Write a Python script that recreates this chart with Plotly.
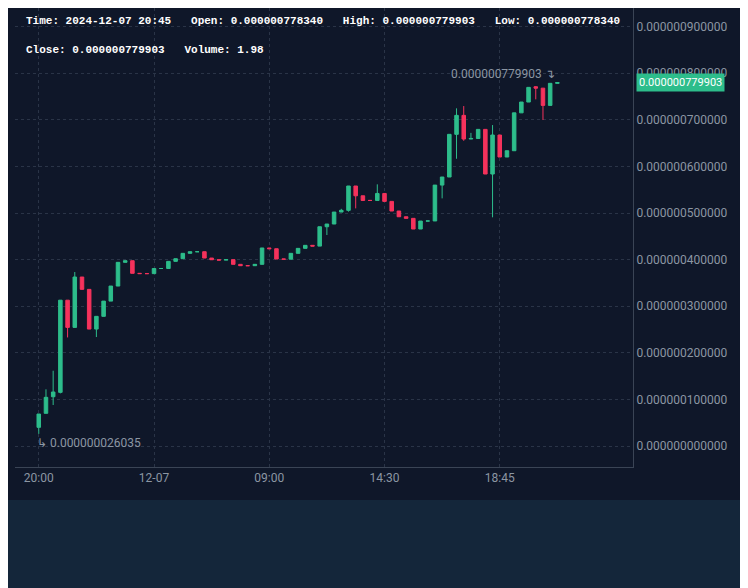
import plotly.graph_objects as go

opens  = [40.1,70.2,105.8,115.2,313,254.6,362.7,336.2,251,278.3,311,343.3,394.2,397.7,370.6,370,370,381,381,396.3,402,413.5,417,417,403.4,399.8,399,400,389.9,387,387,389.9,425,423.4,401.3,401,413.5,424.2,430.7,429,470.6,476.4,502.1,505.8,558,537,527,527,542,525,504.3,492,488.6,465.7,482.8,483,560,577.3,668.9,709.6,658.8,660,679.5,583.7,667.4,620.2,633.7,715,738.2,771,768,731,778.34]
closes = [68.7,104.5,115.9,313,254.6,362.7,336.2,251,278.3,311,343.3,394.2,397.7,370.6,370,370,381,381,396.3,402,413.5,417,417,403.4,399.8,399,400,389.9,387,387,389.9,425,423.4,401.3,401,413.5,424.2,430.7,429,470.6,476.4,502.1,505.8,558,537,527,527,542,525,504.3,492,488.6,465.7,482.8,483,560,577.3,668.9,709.6,658.8,660,679.5,583.7,667.4,620.2,633.7,715,738.2,769.7,768,731,778.34,779.903]
highs  = [68.7,121.7,161.6,313,313,373.4,362.7,336.2,278.3,311,343.3,394.2,397.7,397.7,370.6,370,381,381,396.3,402,413.5,417,417,417,403.4,399.8,400,400,389.9,387,389.9,425,425,423.4,401.3,413.5,424.2,430.7,430.7,470.6,476.4,502.1,509,558,558,537,527,561.6,542,525,504.3,492,488.6,482.8,483,560,577.3,668.9,724.7,729.6,672,679.5,679.5,688.8,667.4,633.7,715,738.2,769.7,772.5,768,778.34,779.903]
lows   = [26.035,70.2,88,113,233,254.6,336.2,251,233.9,278.3,311,343.3,394.2,370.6,370,370,370,381,381,396.3,402,413.5,417,403.4,399.8,399,399,389.9,387,387,387,389.9,423.4,401.3,401,401,413.5,424.2,429,429,452.8,476.4,502.1,503,510,527,527,527,525,504.3,492,488.6,465.7,465.7,482.8,483,531.5,577.3,616.5,655,658.8,660,583.7,490.8,620.2,620.2,633.7,715,738.2,744,699.6,731,778.34]
tick_idx = [0, 16, 32, 48, 64]
tick_labels = ["20:00", "12-07", "09:00", "14:30", "18:45"]
y_ticks = [0, 100, 200, 300, 400, 500, 600, 700, 800, 900]

sc = 1e-9
x = list(range(len(opens)))
GREEN, RED = "#2dbd8b", "#f5325c"

fig = go.Figure(go.Candlestick(
    x=x, open=[v*sc for v in opens], high=[v*sc for v in highs],
    low=[v*sc for v in lows], close=[v*sc for v in closes],
    increasing=dict(line=dict(color=GREEN, width=1), fillcolor=GREEN),
    decreasing=dict(line=dict(color=RED, width=1), fillcolor=RED),
    whiskerwidth=0, showlegend=False))

last = closes[-1]*sc
fig.add_hline(y=last, line=dict(color=GREEN, dash="dash", width=1))

mono = "Liberation Mono"
fig.update_layout(
    width=748, height=588, margin=dict(l=7, r=123, t=0, b=129, autoexpand=False),
    paper_bgcolor="#0f1729", plot_bgcolor="#0f1729",
    xaxis=dict(range=[-3.3, 82.5], tickvals=tick_idx, ticktext=tick_labels,
               showgrid=True, gridcolor="#2a3447", griddash="dot",
               showline=True, linecolor="#3a4455", rangeslider=dict(visible=False),
               tickfont=dict(color="#8c96a3", size=12, family="Roboto"), zeroline=False, ticks=""),
    yaxis=dict(range=[-45e-9, 940e-9], side="right", tickvals=[v*sc for v in y_ticks],
               tickformat=".12f", showgrid=True, gridcolor="#2a3447", griddash="dot",
               showline=True, linecolor="#3a4455", zeroline=False,
               tickfont=dict(color="#8c96a3", size=12, family="Roboto"), ticks=""),
    shapes=[dict(type="rect", xref="paper", yref="paper", x0=-0.05, x1=1.25, y0=-0.3, y1=-0.072,
                 fillcolor="#14263a", line=dict(width=0), layer="below")],
)
fig.add_annotation(xref="paper", yref="paper", x=0.015, y=0.99, xanchor="left", yanchor="top",
    align="left", showarrow=False,
    text="<b>Time: 2024-12-07 20:45   Open: 0.000000778340   High: 0.000000779903   Low: 0.000000778340</b><br><br><b>Close: 0.000000779903   Volume: 1.98</b>",
    font=dict(family=mono, size=11, color="#ffffff"))
fig.add_annotation(xref="paper", yref="y", x=1.005, y=last, xanchor="left", showarrow=False,
    text="0.000000779903", bgcolor=GREEN, font=dict(color="white", size=11, family="Roboto"), borderpad=2)
fig.add_annotation(x=72, y=highs[-1]*sc, xanchor="right", yanchor="bottom", showarrow=False,
    text="0.000000779903 ↴", font=dict(color="#8c96a3", size=12, family="Roboto"))
fig.add_annotation(x=0, y=lows[0]*sc, xanchor="left", yanchor="top", showarrow=False, xshift=-4,
    text="↳ 0.000000026035", font=dict(color="#8c96a3", size=12, family="Roboto"))
fig.write_html("out.html")
